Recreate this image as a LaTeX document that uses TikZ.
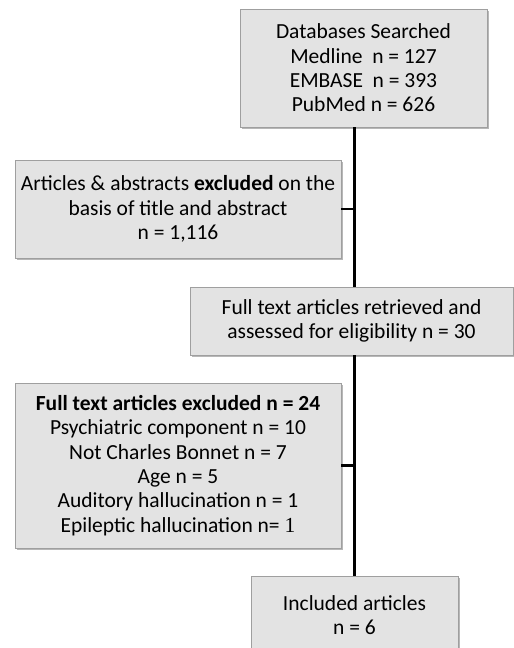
\documentclass[tikz,border=0pt]{standalone}
\usepackage{fontspec}
\setmainfont{Carlito}
\newfontfamily\serifone{Liberation Serif}
\usepackage{tikz}
\usetikzlibrary{shadows}

\tikzset{
  box/.style={draw=gray!75, fill=gray!22, line width=0.8pt, inner sep=0pt,
    align=center, font=\fontsize{21.5}{24.3}\selectfont,
    drop shadow={shadow xshift=1.6pt, shadow yshift=-1.6pt, fill=gray!70, opacity=0.8}},
  trunk/.style={line width=2.3pt, black}
}

\begin{document}
\begin{tikzpicture}[x=1pt,y=-1pt]
  \clip (0,0) rectangle (514,648);
  \fill[white] (0,0) rectangle (514,648);

  % boxes
  \node[box, minimum width=247pt, minimum height=118pt] (db) at (363.5,68)
    {Databases Searched\\ Medline\ \ n = 127\\ EMBASE\ \ n = 393\\ PubMed n = 626};
  \node[box, minimum width=326pt, minimum height=98pt] (abs) at (178,209)
    {Articles \& abstracts \textbf{excluded} on the\\ basis of title and abstract\\ n = 1,116};
  \node[box, minimum width=323pt, minimum height=68pt] (full) at (351.5,321)
    {Full text articles retrieved and\\ assessed for eligibility n = 30};
  \node[box, minimum width=326pt, minimum height=165pt] (fullex) at (178,465.5)
    {\textbf{Full text articles excluded n = 24}\\ Psychiatric component n = 10\\
     Not Charles Bonnet n = 7\\ Age n = 5\\ Auditory hallucination n = 1\\
     Epileptic hallucination n= {\serifone 1}};
  \node[box, minimum width=207pt, minimum height=78pt] (incl) at (354.5,615)
    {Included articles\\ n = 6};

  % connectors
  \draw[trunk] (db.south -| incl.north) -- (full.north -| incl.north);
  \draw[trunk] (full.south -| incl.north) -- (incl.north);
  \draw[trunk] (abs.east) -- (abs.east -| incl.north);
  \draw[trunk] (fullex.east) -- (fullex.east -| incl.north);
\end{tikzpicture}
\end{document}
